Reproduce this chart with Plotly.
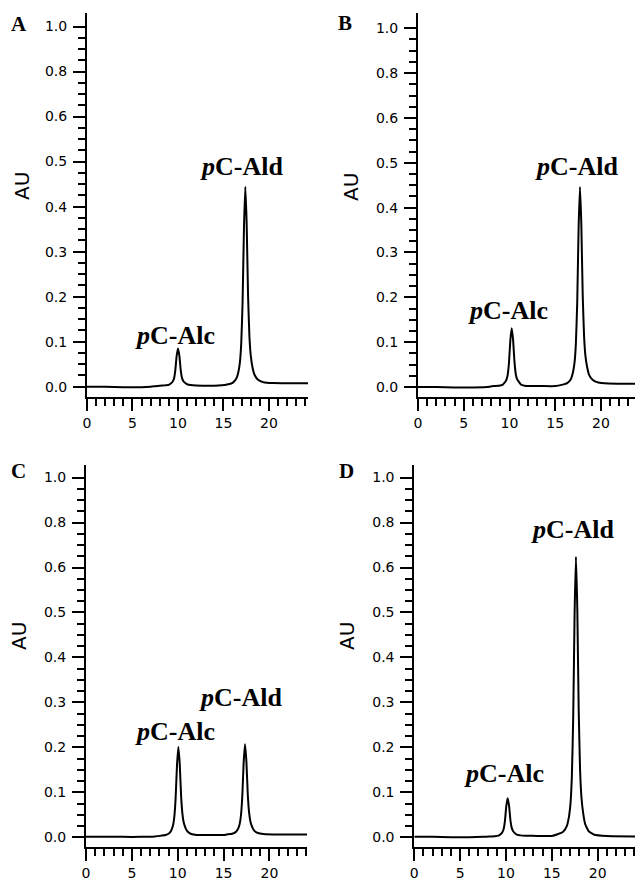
import plotly.graph_objects as go

W, H = 643, 882
OFF = 8  # the page body adds an 8 px margin around the figure

# ---------------- data (retention time in min, absorbance AU) ----------------
t_A = [0.0, 2.0, 4.0, 6.0, 7.0, 7.5, 8.0, 8.6, 9.0, 9.2, 9.4, 9.55, 9.7, 9.85, 10.0,
       10.15, 10.3, 10.45, 10.6, 10.8, 11.0, 11.4, 12.0, 13.0, 14.0, 15.4, 16.0, 16.4,
       16.6, 16.8, 16.95, 17.1, 17.25, 17.4, 17.55, 17.7, 17.85, 18.0, 18.2, 18.4, 18.8,
       19.4, 20.5, 22.0, 24.29]
au_A = [0.000, 0.000, -0.001, -0.001, 0.000, 0.001, 0.002, 0.003, 0.004, 0.007, 0.011,
        0.017, 0.035, 0.068, 0.085, 0.069, 0.037, 0.019, 0.012, 0.008, 0.0055, 0.0035,
        0.0025, 0.002, 0.002, 0.0047, 0.0086, 0.0175, 0.0294, 0.053, 0.095, 0.188, 0.351,
        0.444, 0.361, 0.204, 0.112, 0.069, 0.042, 0.027, 0.0154, 0.010, 0.008, 0.0075, 0.0075]

t_B = [0.0, 2.0, 4.0, 6.0, 7.5, 8.24, 8.84, 9.24, 9.44, 9.64, 9.79, 9.94, 10.09, 10.24,
       10.39, 10.54, 10.69, 10.84, 11.04, 11.24, 11.64, 12.24, 13.5, 15.0, 15.7, 16.3,
       16.7, 16.9, 17.1, 17.25, 17.4, 17.55, 17.7, 17.85, 18.0, 18.15, 18.3, 18.5, 18.7,
       19.1, 19.7, 20.8, 22.5, 24.48]
au_B = [0.000, 0.000, -0.001, -0.001, 0.000, 0.002, 0.003, 0.005, 0.009, 0.015, 0.026,
        0.053, 0.104, 0.131, 0.106, 0.057, 0.028, 0.017, 0.011, 0.0056, 0.003, 0.002,
        0.002, 0.002, 0.0047, 0.0087, 0.0175, 0.0295, 0.053, 0.095, 0.188, 0.353, 0.446,
        0.363, 0.205, 0.113, 0.069, 0.043, 0.027, 0.0154, 0.010, 0.008, 0.0075, 0.0075]

t_C = [0.0, 2.0, 4.0, 6.0, 7.5, 8.07, 8.67, 9.07, 9.27, 9.47, 9.62, 9.77, 9.92, 10.07,
       10.22, 10.37, 10.52, 10.67, 10.87, 11.07, 11.47, 12.07, 13.5, 15.0, 15.34, 15.94,
       16.34, 16.54, 16.74, 16.89, 17.04, 17.19, 17.34, 17.49, 17.64, 17.79, 17.94, 18.14,
       18.34, 18.74, 19.34, 21.0, 24.1]
au_C = [0.001, 0.001, 0.001, 0.001, 0.002, 0.0032, 0.005, 0.009, 0.0143, 0.025, 0.044,
        0.0856, 0.159, 0.201, 0.164, 0.0927, 0.0513, 0.0316, 0.0198, 0.0129, 0.0075, 0.0052,
        0.005, 0.005, 0.0062, 0.008, 0.0121, 0.0175, 0.0282, 0.0474, 0.0898, 0.165, 0.207,
        0.169, 0.0965, 0.0542, 0.0341, 0.0221, 0.015, 0.0096, 0.0072, 0.006, 0.006]

t_D = [0.0, 2.0, 4.0, 6.0, 7.5, 8.18, 8.78, 9.18, 9.38, 9.58, 9.73, 9.88, 10.03, 10.18,
       10.33, 10.48, 10.63, 10.78, 10.98, 11.18, 11.58, 12.18, 13.5, 15.0, 15.63, 16.23,
       16.63, 16.83, 17.03, 17.18, 17.33, 17.48, 17.63, 17.78, 17.93, 18.08, 18.23, 18.43,
       18.63, 19.03, 19.63, 21.0, 24.18]
au_D = [0.001, 0.001, 0.000, 0.000, 0.001, 0.0017, 0.0024, 0.0038, 0.0063, 0.0105, 0.0173,
        0.0354, 0.069, 0.087, 0.071, 0.039, 0.021, 0.0135, 0.0093, 0.006, 0.0043, 0.0035,
        0.003, 0.003, 0.0067, 0.0123, 0.0247, 0.0415, 0.074, 0.133, 0.264, 0.494, 0.624,
        0.506, 0.282, 0.151, 0.089, 0.052, 0.030, 0.0132, 0.0057, 0.003, 0.002]

panel_letters = ["A", "B", "C", "D"]
panel_times = [t_A, t_B, t_C, t_D]
panel_values = [au_A, au_B, au_C, au_D]

# peak label anchor points (time, AU) per panel: [pC-Alc, pC-Ald]
alc_label_pos = [(9.67, 0.113), (9.87, 0.171), (9.71, 0.236), (9.78, 0.141)]
ald_label_pos = [(17.0, 0.490), (17.34, 0.492), (16.88, 0.312), (17.25, 0.684)]

x_tickvals = [0, 5, 10, 15, 20]
y_tickvals = [0.0, 0.1, 0.2, 0.3, 0.4, 0.5, 0.6, 0.7, 0.8]
y_ticktext = ["0.0", "0.1", "0.2", "0.3", "0.4", "0.5", "0.6", "0.8", "1.0"]
y_minor_vals = [i * 0.025 for i in range(0, 33)]
y_axis_title = "AU"

# ---------------- layout geometry (screen pixels) ----------------
panels_px = [
    dict(l=87, r=308, t=13, b=397, xmax=24.29, yr=[-0.0229, 0.830]),
    dict(l=418, r=642, t=13, b=397, xmax=24.48, yr=[-0.0223, 0.834]),
    dict(l=86, r=307, t=465, b=847.3, xmax=24.10, yr=[-0.0222, 0.828]),
    dict(l=414.3, r=636, t=465, b=847.3, xmax=24.18, yr=[-0.0222, 0.828]),
]
letter_px = [(18.5, 23.5), (345, 23), (18.5, 471), (346, 471)]
au_px = [(22, 186), (351, 187), (19, 636), (347, 636)]


def fx(px):
    return (px - OFF) / W


def fy(py):
    return 1 - (py - OFF) / H


fig = go.Figure()
tick_font = dict(family="DejaVu Sans", size=14, color="black")
label_font = dict(family="Liberation Serif", size=26, color="black")

layout_axes = {}
annotations = []
for i in range(4):
    p = panels_px[i]
    sfx = "" if i == 0 else str(i + 1)
    xa, ya = "x" + sfx, "y" + sfx
    fig.add_trace(go.Scatter(
        x=panel_times[i], y=panel_values[i], mode="lines",
        line=dict(color="black", width=2, shape="spline", smoothing=0.4),
        xaxis=xa, yaxis=ya, showlegend=False, hoverinfo="skip"))
    layout_axes["xaxis" + sfx] = dict(
        domain=[fx(p["l"]), min(1.0, fx(p["r"]))], range=[0, p["xmax"]], anchor=ya,
        automargin=False,
        showline=True, linecolor="black", linewidth=2, showgrid=False, zeroline=False,
        tickmode="array", tickvals=x_tickvals, ticks="outside", ticklen=12, tickwidth=2,
        tickcolor="black", tickfont=tick_font, ticklabelstandoff=0,
        minor=dict(ticks="outside", ticklen=7, tickwidth=2, tickcolor="black",
                   tickmode="linear", tick0=0, dtick=1, showgrid=False),
    )
    layout_axes["yaxis" + sfx] = dict(
        domain=[fy(p["b"]), fy(p["t"])], range=p["yr"], anchor=xa,
        automargin=False,
        showline=True, linecolor="black", linewidth=2, showgrid=False, zeroline=False,
        tickmode="array", tickvals=y_tickvals, ticktext=y_ticktext,
        ticks="outside", ticklen=12, tickwidth=2, tickcolor="black", tickfont=tick_font,
        ticklabelstandoff=3,
        minor=dict(ticks="outside", ticklen=7, tickwidth=2, tickcolor="black",
                   tickmode="array", tickvals=y_minor_vals, showgrid=False),
    )
    lx, ly = letter_px[i]
    annotations.append(dict(
        x=fx(lx), y=fy(ly), xref="paper", yref="paper", xanchor="center",
        yanchor="middle", showarrow=False, text="<b>" + panel_letters[i] + "</b>",
        font=dict(family="Liberation Serif", size=21, color="black")))
    ax_, ay_ = au_px[i]
    annotations.append(dict(
        x=fx(ax_), y=fy(ay_), xref="paper", yref="paper", xanchor="center",
        yanchor="middle", showarrow=False, text=y_axis_title, textangle=-90,
        font=dict(family="DejaVu Sans", size=20, color="black")))
    for (px_, py_), name in ((alc_label_pos[i], "Alc"), (ald_label_pos[i], "Ald")):
        annotations.append(dict(
            x=px_, y=py_, xref=xa, yref=ya, xanchor="center", yanchor="middle",
            showarrow=False, text="<b><i>p</i>C-" + name + "</b>", font=label_font))

fig.update_layout(
    template="none",
    width=W, height=H, margin=dict(l=0, r=0, t=0, b=0, autoexpand=False),
    paper_bgcolor="white", plot_bgcolor="white",
    annotations=annotations, **layout_axes)

fig.write_html("out.html")
